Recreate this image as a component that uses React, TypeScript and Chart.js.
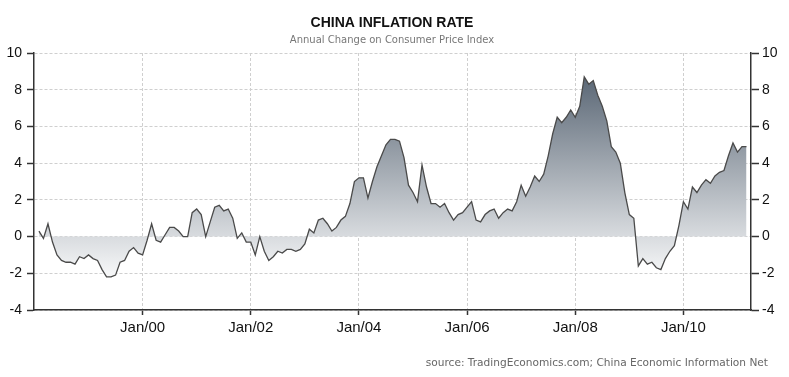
import React, { useEffect, useRef } from "react";
import { Chart, registerables } from "chart.js";

Chart.register(...registerables);

// ---- data (China CPI, annual % change, monthly) ----
const startYear = 1998;
const cpi1998 = [0.3, -0.1, 0.7, -0.3, -1.0, -1.3, -1.4, -1.4, -1.5, -1.1, -1.2, -1.0];
const cpi1999 = [-1.2, -1.3, -1.8, -2.2, -2.2, -2.1, -1.4, -1.3, -0.8, -0.6, -0.9, -1.0];
const cpi2000 = [-0.2, 0.7, -0.2, -0.3, 0.1, 0.5, 0.5, 0.3, 0.0, 0.0, 1.3, 1.5];
const cpi2001 = [1.2, 0.0, 0.8, 1.6, 1.7, 1.4, 1.5, 1.0, -0.1, 0.2, -0.3, -0.3];
const cpi2002 = [-1.0, 0.0, -0.8, -1.3, -1.1, -0.8, -0.9, -0.7, -0.7, -0.8, -0.7, -0.4];
const cpi2003 = [0.4, 0.2, 0.9, 1.0, 0.7, 0.3, 0.5, 0.9, 1.1, 1.8, 3.0, 3.2];
const cpi2004 = [3.2, 2.1, 3.0, 3.8, 4.4, 5.0, 5.3, 5.3, 5.2, 4.3, 2.8, 2.4];
const cpi2005 = [1.9, 3.9, 2.7, 1.8, 1.8, 1.6, 1.8, 1.3, 0.9, 1.2, 1.3, 1.6];
const cpi2006 = [1.9, 0.9, 0.8, 1.2, 1.4, 1.5, 1.0, 1.3, 1.5, 1.4, 1.9, 2.8];
const cpi2007 = [2.2, 2.7, 3.3, 3.0, 3.4, 4.4, 5.6, 6.5, 6.2, 6.5, 6.9, 6.5];
const cpi2008 = [7.1, 8.7, 8.3, 8.5, 7.7, 7.1, 6.3, 4.9, 4.6, 4.0, 2.4, 1.2];
const cpi2009 = [1.0, -1.6, -1.2, -1.5, -1.4, -1.7, -1.8, -1.2, -0.8, -0.5, 0.6, 1.9];
const cpi2010 = [1.5, 2.7, 2.4, 2.8, 3.1, 2.9, 3.3, 3.5, 3.6, 4.4, 5.1, 4.6];
const cpi2011 = [4.9, 4.9];

const yearlySeries = [
  cpi1998, cpi1999, cpi2000, cpi2001, cpi2002, cpi2003, cpi2004,
  cpi2005, cpi2006, cpi2007, cpi2008, cpi2009, cpi2010, cpi2011,
];

const xTickLabels = ["Jan/00", "Jan/02", "Jan/04", "Jan/06", "Jan/08", "Jan/10"];
const xTickYears = [2000, 2002, 2004, 2006, 2008, 2010];
const yTicks = [-4, -2, 0, 2, 4, 6, 8, 10];

const titleText = "CHINA INFLATION RATE";
const subtitleText = "Annual Change on Consumer Price Index";
const sourceText = "source: TradingEconomics.com; China Economic Information Net";

// month index counted from Jan of startYear; a month's reading is plotted at the end of that month
const points: { x: number; y: number }[] = [];
yearlySeries.forEach((arr, yi) => {
  arr.forEach((v, mi) => points.push({ x: yi * 12 + mi + 1, y: v }));
});
const xTickValues = xTickYears.map((y) => (y - startYear) * 12);

const TICK_FONT = "'Liberation Sans', Arial, sans-serif";
const TEXT_FONT = "'DejaVu Sans', Verdana, sans-serif";

const textPlugin = {
  id: "texts",
  afterDraw(chart: any) {
    const c = chart.ctx;
    c.save();
    c.textBaseline = "middle";
    c.textAlign = "center";
    c.fillStyle = "#111";
    c.font = `bold 14px ${TICK_FONT}`;
    c.fillText(titleText, 392, 23);
    c.fillStyle = "#777";
    c.font = `10px ${TEXT_FONT}`;
    c.fillText(subtitleText, 392, 40);
    c.textAlign = "right";
    c.fillStyle = "#666";
    c.font = `10.6px ${TEXT_FONT}`;
    c.fillText(sourceText, 768, 363);
    c.restore();
  },
};

export default function App() {
  const ref = useRef<HTMLCanvasElement | null>(null);

  useEffect(() => {
    if (!ref.current) return;
    const yGrid = {
      color: "#cfcfcf",
      lineWidth: 1,
      tickLength: 7,
      tickColor: "#333",
      tickWidth: 1.5,
    };
    const chart = new Chart(ref.current, {
      type: "line",
      data: {
        datasets: [
          {
            data: points,
            borderColor: "#4a4a4a",
            borderWidth: 1.3,
            pointRadius: 0,
            tension: 0,
            fill: "origin",
            backgroundColor: (ctx: any) => {
              const ch = ctx.chart;
              const { chartArea, scales } = ch;
              if (!chartArea || !scales.y) return "rgba(150,160,170,0.6)";
              const g = ch.ctx.createLinearGradient(
                0,
                scales.y.getPixelForValue(10),
                0,
                scales.y.getPixelForValue(-2)
              );
              g.addColorStop(0, "#485666");
              g.addColorStop(1, "#f5f6f7");
              return g;
            },
          },
        ],
      },
      options: {
        responsive: false,
        animation: false,
        layout: { padding: { top: 53, left: 0, right: 0, bottom: 0 } },
        plugins: {
          legend: { display: false },
          tooltip: { enabled: false },
          title: { display: false },
        },
        scales: {
          x: {
            type: "linear",
            min: -0.1,
            max: 159,
            afterBuildTicks: (scale: any) => {
              scale.ticks = xTickValues.map((v) => ({ value: v }));
            },
            afterFit: (scale: any) => {
              scale.height = 67;
            },
            ticks: {
              autoSkip: false,
              maxRotation: 0,
              padding: 4,
              color: "#111",
              font: { family: TICK_FONT, size: 15 },
              callback: (v: any) => {
                const i = xTickValues.indexOf(v);
                return i >= 0 ? xTickLabels[i] : "";
              },
            },
            grid: {
              color: "#cfcfcf",
              tickLength: 5,
              tickColor: "#333",
              tickWidth: 1.5,
            },
            border: { color: "#333", width: 1.5, dash: [3, 2] },
          },
          y: {
            position: "left",
            min: -4,
            max: 10,
            afterBuildTicks: (scale: any) => {
              scale.ticks = yTicks.map((v) => ({ value: v }));
            },
            afterFit: (scale: any) => {
              scale.width = 34;
            },
            ticks: {
              padding: 5,
              color: "#111",
              font: { family: TICK_FONT, size: 14 },
            },
            grid: yGrid,
            border: { color: "#333", width: 1.5, dash: [3, 2] },
          },
          y2: {
            position: "right",
            min: -4,
            max: 10,
            afterBuildTicks: (scale: any) => {
              scale.ticks = yTicks.map((v) => ({ value: v }));
            },
            afterFit: (scale: any) => {
              scale.width = 38;
            },
            ticks: {
              padding: 3,
              color: "#111",
              font: { family: TICK_FONT, size: 14 },
            },
            grid: { ...yGrid, drawOnChartArea: false, tickLength: 8 },
            border: { color: "#333", width: 1.5 },
          },
        },
      } as any,
      plugins: [textPlugin],
    });
    return () => chart.destroy();
  }, []);

  return (
    <div style={{ position: "absolute", left: 0, top: 0, width: 789, height: 377, background: "#fff" }}>
      <canvas ref={ref} width={789} height={377} style={{ display: "block" }} />
    </div>
  );
}
